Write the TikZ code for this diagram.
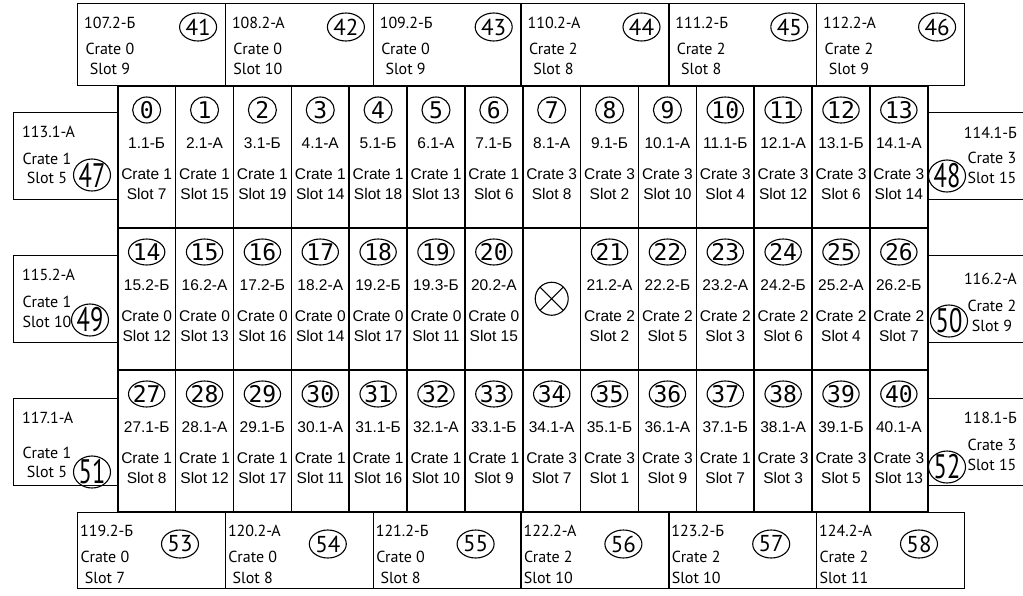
\documentclass[tikz,border=0pt]{standalone}
\usepackage{fontspec}
\setmainfont{Liberation Sans}
\newfontfamily\boxfont{PT Sans}
\newfontfamily\tallfont[FakeStretch=0.72]{PT Sans}
\newfontfamily\numfont{DejaVu Sans Mono}
\usetikzlibrary{
    positioning,
    shapes.geometric
}

\begin{document}
\begin{tikzpicture}[
    x=1pt, y=-1pt,
    cell/.style={
        rectangle,
        draw=black,
        line width=1.5pt,
        minimum width=57.86pt,
        minimum height=142pt,
        inner sep=0pt,
        anchor=north west
    },
    station/.style={
        rectangle,
        draw=black,
        line width=1.3pt,
        minimum width=147.8pt,
        minimum height=82pt,
        inner sep=0pt,
        anchor=north west
    },
    sidebox/.style={
        rectangle,
        draw=black,
        line width=1.3pt,
        minimum width=104pt,
        minimum height=87pt,
        inner sep=0pt,
        anchor=north west
    },
    num/.style={
        ellipse,
        draw=black,
        line width=1.1pt,
        minimum width=28pt,
        minimum height=26pt,
        inner xsep=-1pt,
        inner ysep=-1pt,
        font=\numfont\fontsize{23}{23}\selectfont
    },
    boxnum/.style={
        ellipse,
        draw=black,
        line width=1.1pt,
        minimum width=37pt,
        minimum height=28pt,
        inner sep=0pt,
        font=\boxfont\fontsize{23}{23}\selectfont
    },
    sidenum/.style={
        ellipse,
        draw=black,
        line width=1.1pt,
        minimum width=37pt,
        minimum height=32pt,
        inner sep=-2pt,
        font=\tallfont\fontsize{34}{34}\selectfont
    },
    hole/.style={
        circle,
        draw=black,
        line width=1.1pt,
        minimum size=33pt,
        path picture={
            \draw[line width=1.1pt]
                (path picture bounding box.north west) -- (path picture bounding box.south east)
                (path picture bounding box.north east) -- (path picture bounding box.south west);
        }
    },
    info/.style={
        anchor=base,
        inner sep=0pt,
        font=\fontsize{15.5}{18}\selectfont
    },
    boxtext/.style={
        inner sep=0pt,
        font=\boxfont\fontsize{16}{18}\selectfont
    }
]

\useasboundingbox[fill=white] (0,0) rectangle (1023,595);

% =========================================================
% Top stations
% =========================================================
\foreach \n/\lab/\crate/\slot [count=\i from 0] in {
    41/107.2-Б/0/9, 42/108.2-А/0/10, 43/109.2-Б/0/9,
    44/110.2-А/2/8, 45/111.2-Б/2/8, 46/112.2-А/2/9}{
    \node[station] (s\n) at ({77+147.8*\i},3) {};
    \node[boxnum] at ([xshift=-28pt,yshift=-24pt]s\n.north east) {\n};
    \node[boxtext, anchor=base west] at ([xshift=7pt,yshift=-25pt]s\n.north west) {\lab};
    \node[boxtext, anchor=base] at ([xshift=33pt,yshift=-51pt]s\n.north west) {Crate \crate};
    \node[boxtext, anchor=base] at ([xshift=33pt,yshift=-71pt]s\n.north west) {Slot \slot};
}

% =========================================================
% Bottom stations
% =========================================================
\foreach \n/\lab/\crate/\slot [count=\i from 0] in {
    53/119.2-Б/0/7, 54/120.2-А/0/8, 55/121.2-Б/0/8,
    56/122.2-А/2/10, 57/123.2-Б/2/10, 58/124.2-А/2/11}{
    \node[station, minimum height=76pt] (s\n) at ({77+147.8*\i},512) {};
    \node[boxnum] at ([xshift=103pt,yshift=-32pt]s\n.north west) {\n};
    \node[boxtext, anchor=base west] at ([xshift=3pt,yshift=-24pt]s\n.north west) {\lab};
    \node[boxtext, anchor=base] at ([xshift=28pt,yshift=-50pt]s\n.north west) {Crate \crate};
    \node[boxtext, anchor=base] at ([xshift=28pt,yshift=-71pt]s\n.north west) {Slot \slot};
}

% =========================================================
% Side stations
% =========================================================
\foreach \n/\lab/\crate/\slot/\top/\ly/\cy/\sy/\ry/\rx in {
    47/113.1-А/1/5/112/137.5/164.5/183.5/175/92,
    49/115.2-А/1/10/254.5/280.5/307.5/327.5/320/90,
    51/117.1-А/1/5/398/423.5/458.5/477.5/472/92}{
    \node[sidebox] (s\n) at (13,\top) {};
    \node[sidenum] at (\rx,\ry) {\n};
    \node[boxtext, anchor=base west] at (22,\ly) {\lab};
    \node[boxtext, anchor=base] at (47,\cy) {Crate \crate};
    \node[boxtext, anchor=base] at (47,\sy) {Slot \slot};
}

\foreach \n/\lab/\crate/\slot/\top/\ly/\cy/\sy/\ry/\rx in {
    48/114.1-Б/3/15/112/138.5/163.5/183.5/176/947,
    50/116.2-А/2/9/254.5/284.5/311.5/331.5/321/949,
    52/118.1-Б/3/15/398/423.5/450.5/470.5/467/947}{
    \node[sidebox] (s\n) at (927,\top) {};
    \node[sidenum] at (\rx,\ry) {\n};
    \node[boxtext, anchor=base east] at (1017,\ly) {\lab};
    \node[boxtext, anchor=base] at (992,\cy) {Crate \crate};
    \node[boxtext, anchor=base] at (992,\sy) {Slot \slot};
}

% =========================================================
% Grid, row 1
% =========================================================
\foreach \n/\lab/\crate/\slot [count=\i from 0] in {
    0/1.1-Б/1/7, 1/2.1-А/1/15, 2/3.1-Б/1/19, 3/4.1-А/1/14, 4/5.1-Б/1/18,
    5/6.1-А/1/13, 6/7.1-Б/1/6, 7/8.1-А/3/8, 8/9.1-Б/3/2, 9/10.1-А/3/10,
    10/11.1-Б/3/4, 11/12.1-А/3/12, 12/13.1-Б/3/6, 13/14.1-А/3/14}{
    \node[cell] (c\n) at ({117+57.86*\i},85) {};
    \node[num] at ([yshift=-25pt]c\n.north) {\n};
    \node[info] at ([yshift=-63.5pt]c\n.north) {\lab};
    \node[info] at ([yshift=-94.5pt]c\n.north) {Crate \crate};
    \node[info] at ([yshift=-114.5pt]c\n.north) {Slot \slot};
}

% =========================================================
% Grid, row 2
% =========================================================
\foreach \n/\col/\lab/\crate/\slot in {
    14/0/15.2-Б/0/12, 15/1/16.2-А/0/13, 16/2/17.2-Б/0/16, 17/3/18.2-А/0/14,
    18/4/19.2-Б/0/17, 19/5/19.3-Б/0/11, 20/6/20.2-А/0/15,
    21/8/21.2-А/2/2, 22/9/22.2-Б/2/5, 23/10/23.2-А/2/3, 24/11/24.2-Б/2/6,
    25/12/25.2-А/2/4, 26/13/26.2-Б/2/7}{
    \node[cell] (c\n) at ({117+57.86*\col},227) {};
    \node[num] at ([yshift=-25pt]c\n.north) {\n};
    \node[info] at ([yshift=-63.5pt]c\n.north) {\lab};
    \node[info] at ([yshift=-94.5pt]c\n.north) {Crate \crate};
    \node[info] at ([yshift=-114.5pt]c\n.north) {Slot \slot};
}

\node[cell] (cx) at ({117+57.86*7},227) {};
\node[hole] (beam) at (cx.center) {};

% =========================================================
% Grid, row 3
% =========================================================
\foreach \n/\lab/\crate/\slot [count=\i from 0] in {
    27/27.1-Б/1/8, 28/28.1-А/1/12, 29/29.1-Б/1/17, 30/30.1-А/1/11, 31/31.1-Б/1/16,
    32/32.1-А/1/10, 33/33.1-Б/1/9, 34/34.1-А/3/7, 35/35.1-Б/3/1, 36/36.1-А/3/9,
    37/37.1-Б/1/7, 38/38.1-А/3/3, 39/39.1-Б/3/5, 40/40.1-А/3/13}{
    \node[cell] (c\n) at ({117+57.86*\i},369) {};
    \node[num] at ([yshift=-25pt]c\n.north) {\n};
    \node[info] at ([yshift=-63.5pt]c\n.north) {\lab};
    \node[info] at ([yshift=-94.5pt]c\n.north) {Crate \crate};
    \node[info] at ([yshift=-114.5pt]c\n.north) {Slot \slot};
}

\end{tikzpicture}
\end{document}
